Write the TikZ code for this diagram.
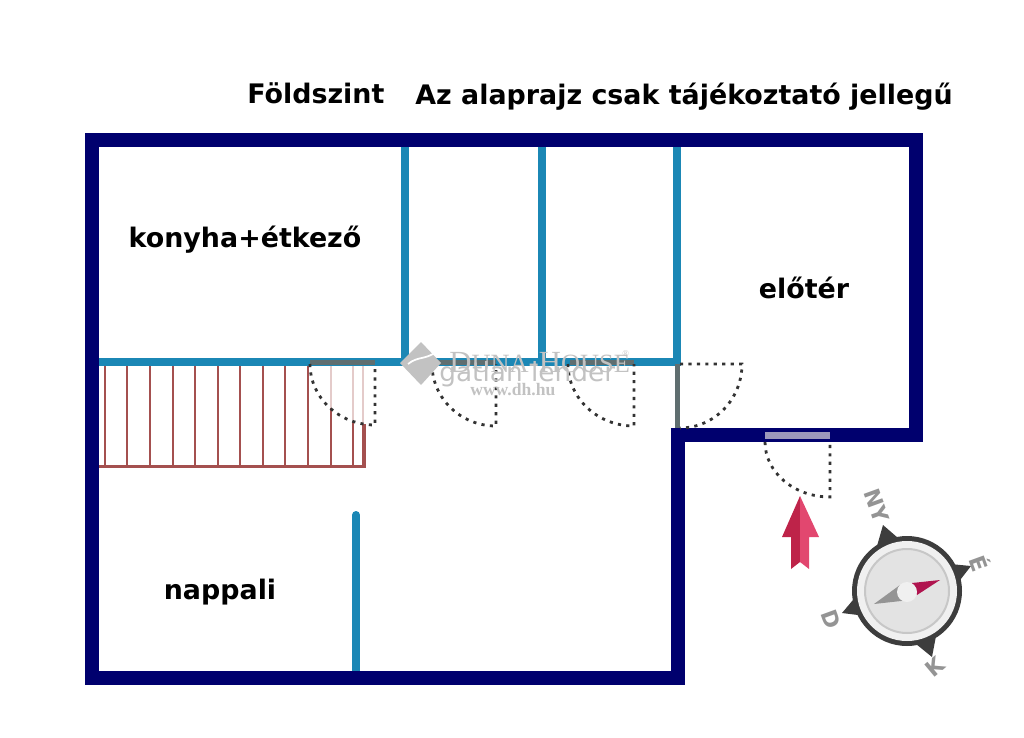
\documentclass[tikz,border=0pt]{standalone}
\usepackage{fontspec}
\setmainfont{DejaVu Sans}
\newfontfamily\markfont{Liberation Serif}
\definecolor{wallnavy}{HTML}{00006E}
\definecolor{wallblue}{HTML}{1B87B5}
\definecolor{doorgray}{HTML}{5F6E70}
\definecolor{stairred}{HTML}{A4504F}
\definecolor{arrowdark}{HTML}{BE2349}
\definecolor{arrowlight}{HTML}{E2476F}
\definecolor{needlered}{HTML}{B0144F}
\definecolor{doorlilac}{HTML}{9C98BC}
\tikzset{
  label text/.style={font=\fontsize{15.3}{17}\selectfont\bfseries,text=black,inner sep=0pt},
  compass text/.style={font=\fontsize{12.5}{14}\selectfont\bfseries,text=black!42,inner sep=0pt,rotate=-70},
  outer wall/.style={draw=wallnavy,line width=14*0.02cm,line join=miter},
  inner wall/.style={draw=wallblue,line width=8*0.02cm},
  door gap/.style={draw=doorgray,line width=5*0.02cm},
  door swing/.style={draw=black!80,line width=2.8*0.02cm,dash pattern=on 1.8pt off 3pt},
  stair line/.style={draw=stairred,line width=1.7*0.02cm},
  mark text/.style={text=black!24,inner sep=0pt}
}
\begin{document}
\begin{tikzpicture}[x=0.02cm,y=-0.02cm]
        \useasboundingbox (0,0) rectangle (1024,737);
        % stairs
        \foreach \stepx in {105,127,150,173,195,218,240,263,285}
            \draw[stair line] (\stepx,362) -- (\stepx,466);
        \foreach \stepx/\stepy in {308/362,331/408,353/422,363/424}
            \draw[stair line] (\stepx,\stepy) -- (\stepx,466);
        \foreach \stepx/\stepy in {331/408,353/422,363/424}
            \draw[stair line,draw=stairred!30] (\stepx,362) -- (\stepx,\stepy);
        \draw[stair line,line width=3*0.02cm] (99,466) -- (364,466) -- (364,424);
        % walls
        \path[inner wall]
        (405,147) edge (405,362)
        (542,147) edge (542,362)
        (677,147) edge (677,362)
        (99,362) edge (681,362);
        \draw[inner wall,line cap=round] (356,515) -- (356,671);
        \draw[outer wall] (92,140) -- (915.5,140) -- (915.5,434.5) -- (678,434.5) -- (678,678) -- (92,678) -- cycle;
        % doors
        \path[door gap]
        (310,362) edge (375,362)
        (434,362) edge (496,362)
        (570,362) edge (634,362)
        (677,364) edge (677,428);
        \draw[draw=doorlilac,line width=7*0.02cm] (765,435.5) -- (830,435.5);
        \draw[door swing] (310,364) arc[start angle=180,end angle=90,x radius=65,y radius=61] -- (375,364);
        \draw[door swing] (432,364) arc[start angle=180,end angle=90,x radius=64,y radius=62] -- (496,364);
        \draw[door swing] (568,364) arc[start angle=180,end angle=90,x radius=66,y radius=62] -- (634,364);
        \draw[door swing] (680,364) -- (742,364) arc[start angle=0,end angle=90,x radius=62,y radius=64];
        \draw[door swing] (765,442) arc[start angle=180,end angle=90,x radius=65,y radius=55] -- (830,442);
        % texts
        \node[label text,anchor=base west] (floor) at (247,103) {Földszint};
        \node[label text,anchor=base west] (note) at (415,104) {Az alaprajz csak tájékoztató jellegű};
        \node[label text] (kitchen) at (245,239.5) {konyha+étkező};
        \node[label text] (hall) at (804,288) {előtér};
        \node[label text] (living) at (220,592) {nappali};
        % watermark
        \fill[black!24] (421,342) -- (441,363) -- (421,385) -- (400,363) -- cycle;
        \draw[white,line width=1pt] (408,364) .. controls (418,356) and (425,360) .. (436,352);
        \node[mark text,font=\markfont\fontsize{17.5}{18}\selectfont,anchor=base west] (brand) at (449,372) {D{\fontsize{15}{16}\selectfont UNA}-H{\fontsize{15}{16}\selectfont OUSE}};
        \node[mark text,font=\markfont\fontsize{5}{6}\selectfont,anchor=west] (reg) at (622,354) {®};
        \node[mark text,font=\fontsize{15}{16}\selectfont\mdseries,anchor=base west] (lender) at (439,381) {gatlan lender};
        \node[mark text,font=\markfont\fontsize{10}{11}\selectfont\bfseries,anchor=base west] (web) at (470,395) {www.dh.hu};
        % entrance arrow
        \fill[arrowdark] (800,496) -- (782,537) -- (791,537) -- (791,569) -- (800,562) -- cycle;
        \fill[arrowlight] (800,496) -- (819,537) -- (809,537) -- (809,569) -- (800,562) -- cycle;
        % compass
        \fill[black!76] (883,525) -- (877,546) -- (898,538) -- cycle;
        \fill[black!76] (971,566) -- (950,564) -- (957,584) -- cycle;
        \fill[black!76] (842,613) -- (858,594) -- (866,616) -- cycle;
        \fill[black!76] (932,657) -- (916,644) -- (936,636) -- cycle;
        \fill[black!76] (907,591) circle[radius=55];
        \fill[black!6] (907,591) circle[radius=50];
        \draw[fill=black!11,draw=black!22,line width=2*0.02cm] (907,591) circle[radius=42];
        \fill[black!42] (874,604) -- (900,585) -- (910,600) -- cycle;
        \fill[needlered] (940,580) -- (912,583) -- (917,595) -- cycle;
        \fill[black!6] (907,592) circle[radius=10];
        \node[compass text] (ny) at (877,506) {NY};
        \node[compass text] (e) at (981,563) {É};
        \node[compass text] (d) at (831,619) {D};
        \node[compass text,rotate=110] (k) at (935,667) {K};
\end{tikzpicture}
\end{document}
